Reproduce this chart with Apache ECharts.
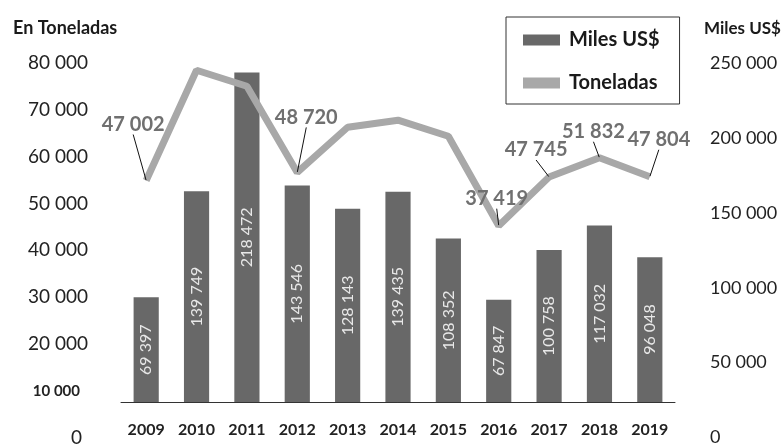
<!DOCTYPE html>
<html>
<head>
<meta charset="utf-8">
<script src="https://cdn.jsdelivr.net/npm/echarts@6/dist/echarts.min.js"></script>
<style>
html,body{margin:0;padding:0;background:#fff;}
#c{width:784px;height:447px;}
</style>
</head>
<body>
<div id="c"></div>
<script>
// ---- data ----
const years = ['2009','2010','2011','2012','2013','2014','2015','2016','2017','2018','2019'];
const milesUSD = [69397, 139749, 218472, 143546, 128143, 139435, 108352, 67847, 100758, 117032, 96048];
const toneladas = [47002, 70400, 67000, 48720, 58300, 59800, 56400, 37419, 47745, 51832, 47804];
const labeledYears = ['2009','2012','2016','2017','2018','2019'];
const leftTicks = [0, 10000, 20000, 30000, 40000, 50000, 60000, 70000, 80000];
const rightTicks = [0, 50000, 100000, 150000, 200000, 250000];

// ---- layout helpers (not data) ----
const labelOffsets = {0:[-13,-56], 3:[9,-55], 7:[-2,-27], 8:[-13,-27], 9:[-6,-26], 10:[9,-37]};
const fmt = v => String(v).replace(/\B(?=(\d{3})+(?!\d))/g, ' ');
const FONT = 'Lato, "Open Sans", sans-serif';

const lineData = toneladas.map((v, i) => ({
  value: v,
  label: { show: labeledYears.indexOf(years[i]) >= 0 }
}));

const chart = echarts.init(document.getElementById('c'), null, {renderer: 'canvas'});
chart.setOption({
  backgroundColor: '#ffffff',
  animation: false,
  textStyle: { fontFamily: FONT },
  title: [
    { text: 'En Toneladas', left: 8, top: 14,
      textStyle: { fontFamily: FONT, fontSize: 18, fontWeight: 'bold', color: '#1a1a1a' } },
    { text: 'Miles US$', left: 699, top: 15,
      textStyle: { fontFamily: FONT, fontSize: 17, fontWeight: 'bold', color: '#1a1a1a' } }
  ],
  legend: {
    left: 506, top: 17, orient: 'vertical',
    padding: [13, 20, 11, 17], itemGap: 23,
    itemWidth: 37, itemHeight: 11,
    borderColor: '#333', borderWidth: 1, borderRadius: 0,
    textStyle: { fontFamily: FONT, fontSize: 20, fontWeight: 'bold', color: '#1a1a1a', padding: [0, 0, 0, 4] },
    data: [{ name: 'Miles US$', icon: 'rect' }, { name: 'Toneladas', icon: 'rect' }]
  },
  grid: [
    { left: 121, width: 554, top: 25, height: 377 },
    { left: 121, width: 554, top: 63, height: 377 }
  ],
  xAxis: [
    { type: 'category', gridIndex: 0, data: years,
      axisLine: { show: true, lineStyle: { color: '#333', width: 1 } },
      axisTick: { show: false },
      axisLabel: { margin: 20, fontFamily: FONT, fontSize: 16, fontWeight: 'bold', color: '#222' } },
    { type: 'value', gridIndex: 1, min: 0, max: 1, show: false }
  ],
  yAxis: [
    { type: 'value', gridIndex: 0, position: 'left', min: 0, max: 80000,
      axisLabel: { show: false }, axisLine: { show: false }, axisTick: { show: false }, splitLine: { show: false } },
    { type: 'value', gridIndex: 0, position: 'right', min: 0, max: 250000,
      axisLabel: { show: false }, axisLine: { show: false }, axisTick: { show: false }, splitLine: { show: false } },
    { type: 'value', gridIndex: 1, position: 'left',
      min: leftTicks[0], max: leftTicks[leftTicks.length - 1], interval: leftTicks[1] - leftTicks[0],
      axisLine: { show: false }, axisTick: { show: false }, splitLine: { show: false },
      axisLabel: { margin: 33, fontFamily: FONT, fontSize: 19, color: '#222',
        formatter: v => v === 10000 ? '{b|' + fmt(v) + '}' : (v === 0 ? '{z|0}' : fmt(v)),
        rich: {
          b: { fontFamily: FONT, fontSize: 15, fontWeight: 'bold', color: '#222', padding: [0, 8, 0, 0] },
          z: { fontFamily: FONT, fontSize: 19, color: '#222', padding: [0, 6, 0, 0] }
        } } },
    { type: 'value', gridIndex: 1, position: 'right',
      min: rightTicks[0], max: rightTicks[rightTicks.length - 1], interval: rightTicks[1] - rightTicks[0],
      axisLine: { show: false }, axisTick: { show: false }, splitLine: { show: false },
      axisLabel: { margin: 35, fontFamily: FONT, fontSize: 18, color: '#222', formatter: v => fmt(v) } }
  ],
  series: [
    { name: 'Miles US$', type: 'bar', xAxisIndex: 0, yAxisIndex: 1, data: milesUSD,
      barWidth: '50%',
      itemStyle: { color: '#686868' },
      label: { show: true, position: 'inside', rotate: 90, formatter: p => fmt(p.value),
        fontFamily: FONT, fontSize: 16, color: '#e8e8e8' } },
    { name: 'Toneladas', type: 'line', xAxisIndex: 0, yAxisIndex: 0, data: lineData,
      symbol: 'circle', symbolSize: 1, showSymbol: true,
      itemStyle: { color: '#a8a8a8' },
      lineStyle: { color: '#a8a8a8', width: 7 },
      label: { position: 'inside', formatter: p => fmt(p.value),
        fontFamily: FONT, fontSize: 20, fontWeight: 'bold', color: '#707070' },
      labelLine: { show: true, lineStyle: { color: '#111', width: 1 } },
      labelLayout: p => { const o = labelOffsets[p.dataIndex]; return o ? { dx: o[0], dy: o[1] } : {}; },
      z: 3 }
  ]
});
</script>
</body>
</html>
